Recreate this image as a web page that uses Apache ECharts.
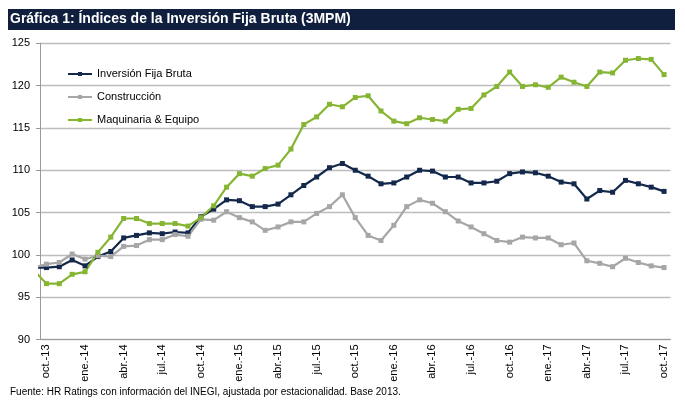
<!DOCTYPE html>
<html>
<head>
<meta charset="utf-8">
<title>Gráfica 1</title>
<script src="https://cdn.jsdelivr.net/npm/echarts@6/dist/echarts.min.js"></script>
<style>
    html, body { margin: 0; padding: 0; background: #fff; }
    #chart { width: 685px; height: 409px; }
</style>
</head>
<body>
<div id="chart"></div>
<script>
// meses (sep.-13 queda fuera del eje, solo se ve el tramo inicial de la linea)
var meses = ['sep.-13',
    'oct.-13', 'nov.-13', 'dic.-13', 'ene.-14', 'feb.-14', 'mar.-14', 'abr.-14', 'may.-14', 'jun.-14', 'jul.-14', 'ago.-14', 'sep.-14',
    'oct.-14', 'nov.-14', 'dic.-14', 'ene.-15', 'feb.-15', 'mar.-15', 'abr.-15', 'may.-15', 'jun.-15', 'jul.-15', 'ago.-15', 'sep.-15',
    'oct.-15', 'nov.-15', 'dic.-15', 'ene.-16', 'feb.-16', 'mar.-16', 'abr.-16', 'may.-16', 'jun.-16', 'jul.-16', 'ago.-16', 'sep.-16',
    'oct.-16', 'nov.-16', 'dic.-16', 'ene.-17', 'feb.-17', 'mar.-17', 'abr.-17', 'may.-17', 'jun.-17', 'jul.-17', 'ago.-17', 'sep.-17',
    'oct.-17'];

var inversionFija = [98.5,
    98.5, 98.6, 99.4, 98.7, 99.8, 100.4, 102.0, 102.3, 102.6, 102.5, 102.7, 102.6,
    104.5, 105.4, 106.5, 106.4, 105.7, 105.7, 106.0, 107.1, 108.2, 109.2, 110.3, 110.8,
    110.0, 109.3, 108.4, 108.5, 109.2, 110.0, 109.9, 109.2, 109.2, 108.5, 108.5, 108.7,
    109.6, 109.8, 109.7, 109.3, 108.6, 108.4, 106.6, 107.6, 107.4, 108.8, 108.4, 108.0,
    107.5];

var construccion = [98.5,
    98.9, 99.1, 100.1, 99.5, 99.9, 99.8, 101.0, 101.1, 101.8, 101.8, 102.4, 102.2,
    104.2, 104.1, 105.1, 104.4, 103.9, 102.9, 103.3, 103.9, 103.9, 104.9, 105.7, 107.1,
    104.4, 102.3, 101.7, 103.5, 105.7, 106.5, 106.1, 105.1, 104.0, 103.3, 102.5, 101.7,
    101.5, 102.1, 102.0, 102.0, 101.2, 101.4, 99.3, 99.0, 98.6, 99.6, 99.1, 98.7,
    98.5];

var maquinaria = [98.2,
    96.6, 96.6, 97.7, 98.0, 100.3, 102.1, 104.3, 104.3, 103.7, 103.7, 103.7, 103.4,
    104.4, 105.8, 108.0, 109.6, 109.3, 110.2, 110.6, 112.5, 115.4, 116.3, 117.8, 117.5,
    118.6, 118.8, 117.0, 115.8, 115.5, 116.2, 116.0, 115.8, 117.2, 117.3, 118.9, 119.9,
    121.6, 119.9, 120.1, 119.8, 121.0, 120.4, 119.9, 121.6, 121.5, 123.0, 123.2, 123.1,
    121.3];

var nombres = ['Inversión Fija Bruta', 'Construcción', 'Maquinaria & Equipo'];
var colores = ['#14284c', '#a6a6a6', '#86b534'];

var fuente = "'Liberation Sans Narrow', 'Liberation Sans', Arial, sans-serif";

var myChart = echarts.init(document.getElementById('chart'));

// cada 3 meses desde oct.-13
function cadaTrimestre(index) {
    return (index - 1) % 3 === 0;
}

function serie(nombre, datos, color) {
    return {
        name: nombre,
        type: 'line',
        data: datos,
        symbol: 'rect',
        symbolSize: 5,
        clip: true,
        lineStyle: { color: color, width: 2.2 },
        itemStyle: { color: color },
        emphasis: { disabled: true }
    };
}

var option = {
    animation: false,
    color: colores,
    title: {
        text: 'Gráfica 1: Índices de la Inversión Fija Bruta (3MPM)',
        left: 10,
        top: 12,
        padding: 0,
        textStyle: {
            color: '#ffffff',
            fontFamily: fuente,
            fontWeight: 'bold',
            fontSize: 14
        }
    },
    graphic: [
        {
            type: 'rect',
            z: -1,
            shape: { x: 8, y: 9, width: 667, height: 21 },
            style: { fill: '#0f1f3d' }
        },
        {
            type: 'text',
            left: 10,
            top: 387,
            style: {
                text: 'Fuente: HR Ratings con información del INEGI, ajustada por estacionalidad. Base 2013.',
                fill: '#000000',
                font: '10px ' + fuente
            }
        }
    ],
    legend: {
        orient: 'vertical',
        left: 62,
        top: 62,
        itemWidth: 24,
        itemHeight: 5,
        itemGap: 9,
        data: nombres,
        textStyle: { color: '#000000', fontFamily: fuente, fontSize: 11, lineHeight: 14 }
    },
    grid: {
        left: 40,
        right: 14.5,
        top: 43.3,
        bottom: 69.5
    },
    xAxis: {
        type: 'category',
        data: meses,
        min: 1,
        boundaryGap: true,
        axisLine: { lineStyle: { color: '#9a9a9a', width: 1 } },
        axisTick: {
            interval: cadaTrimestre,
            length: 4,
            lineStyle: { color: '#9a9a9a' }
        },
        axisLabel: {
            interval: cadaTrimestre,
            rotate: 90,
            margin: 5,
            color: '#000000',
            fontFamily: fuente,
            fontSize: 11
        },
        splitLine: { show: false }
    },
    yAxis: {
        type: 'value',
        min: 90,
        max: 125,
        interval: 5,
        axisLine: { show: true, lineStyle: { color: '#9a9a9a', width: 1 } },
        axisTick: { show: true, length: 4, lineStyle: { color: '#9a9a9a' } },
        axisLabel: {
            margin: 10,
            color: '#000000',
            fontFamily: fuente,
            fontSize: 11
        },
        splitLine: { lineStyle: { color: '#bdbdbd', width: 1.3 } }
    },
    series: [
        serie(nombres[0], inversionFija, colores[0]),
        serie(nombres[1], construccion, colores[1]),
        serie(nombres[2], maquinaria, colores[2])
    ]
};

myChart.setOption(option);
</script>
</body>
</html>
